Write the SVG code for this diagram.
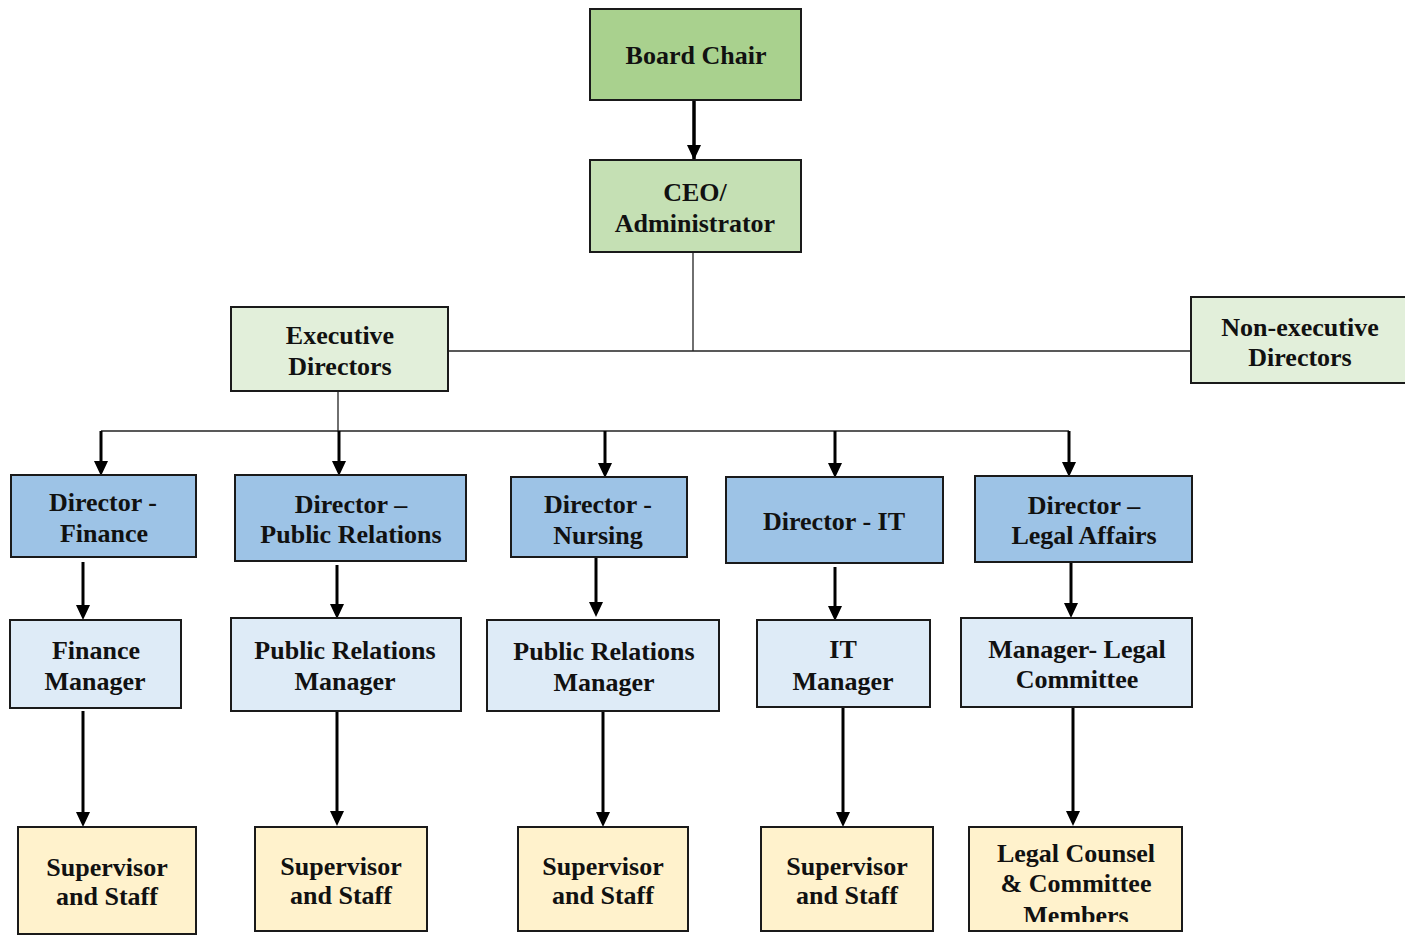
<svg xmlns="http://www.w3.org/2000/svg" width="1405" height="940" viewBox="0 0 1405 940">
<style>
.box{stroke:#1a1a1a;stroke-width:2}
.g1{fill:#a9d18e}.g2{fill:#c5e0b4}.g3{fill:#e2efda}
.b1{fill:#9dc3e6}.b2{fill:#deebf7}.y1{fill:#fff2cc}
text{font-family:"Liberation Serif","Times New Roman",serif;font-weight:bold;font-size:26px;fill:#111;text-anchor:middle}
.thin{stroke:#222;stroke-width:1.3;fill:none}
</style>
<defs>
<clipPath id="clipLegal"><rect x="969" y="827" width="213" height="95"/></clipPath>
</defs>
<rect width="1405" height="940" fill="#fff"/>

<g id="connectors">
<line class="thin" x1="693" y1="253" x2="693" y2="351"/>
<line class="thin" x1="448" y1="351" x2="1191" y2="351"/>
<line class="thin" x1="338" y1="392" x2="338" y2="431"/>
<line class="thin" x1="101" y1="431" x2="1069" y2="431"/>
<path d="M694,101 V159" stroke="#000" stroke-width="3.5"/>
<path d="M687,145 L701,145 L694,160 Z" fill="#000"/>
<g stroke="#000" stroke-width="3">
<line x1="101" y1="431" x2="101" y2="462"/>
<line x1="339" y1="431" x2="339" y2="462"/>
<line x1="605" y1="431" x2="605" y2="464"/>
<line x1="835" y1="431" x2="835" y2="464"/>
<line x1="1069" y1="431" x2="1069" y2="463"/>
<line x1="83" y1="562" x2="83" y2="606"/>
<line x1="337" y1="565" x2="337" y2="605"/>
<line x1="596" y1="557" x2="596" y2="603"/>
<line x1="835" y1="567" x2="835" y2="607"/>
<line x1="1071" y1="562" x2="1071" y2="604"/>
<line x1="83" y1="711" x2="83" y2="813"/>
<line x1="337" y1="708" x2="337" y2="812"/>
<line x1="603" y1="709" x2="603" y2="813"/>
<line x1="843" y1="708" x2="843" y2="813"/>
<line x1="1073" y1="708" x2="1073" y2="812"/>
</g>
<g fill="#000">
<path d="M94,461 L108,461 L101,476 Z"/>
<path d="M332,461 L346,461 L339,476 Z"/>
<path d="M598,463 L612,463 L605,478 Z"/>
<path d="M828,463 L842,463 L835,478 Z"/>
<path d="M1062,462 L1076,462 L1069,477 Z"/>
<path d="M76,605 L90,605 L83,620 Z"/>
<path d="M330,604 L344,604 L337,619 Z"/>
<path d="M589,602 L603,602 L596,617 Z"/>
<path d="M828,606 L842,606 L835,621 Z"/>
<path d="M1064,603 L1078,603 L1071,618 Z"/>
<path d="M76,812 L90,812 L83,827 Z"/>
<path d="M330,811 L344,811 L337,826 Z"/>
<path d="M596,812 L610,812 L603,827 Z"/>
<path d="M836,812 L850,812 L843,827 Z"/>
<path d="M1066,811 L1080,811 L1073,826 Z"/>
</g>
</g>

<g id="board-chair"><rect class="box g1" x="590" y="9" width="211" height="91"/><text x="696" y="64">Board Chair</text></g>
<g id="ceo"><rect class="box g2" x="590" y="160" width="211" height="92"/><text x="695" y="201">CEO/</text><text x="695" y="232">Administrator</text></g>
<g id="exec-directors"><rect class="box g3" x="231" y="307" width="217" height="84"/><text x="340" y="344">Executive</text><text x="340" y="375">Directors</text></g>
<g id="nonexec-directors"><rect class="box g3" x="1191" y="297" width="216" height="86"/><text x="1300" y="336">Non-executive</text><text x="1300" y="366">Directors</text></g>

<g id="dir-finance"><rect class="box b1" x="11" y="475" width="185" height="82"/><text x="103" y="511">Director -</text><text x="104" y="542">Finance</text></g>
<g id="dir-pr"><rect class="box b1" x="235" y="475" width="231" height="86"/><text x="351" y="513">Director –</text><text x="351" y="543">Public Relations</text></g>
<g id="dir-nursing"><rect class="box b1" x="511" y="477" width="176" height="80"/><text x="598" y="513">Director -</text><text x="598" y="544">Nursing</text></g>
<g id="dir-it"><rect class="box b1" x="726" y="477" width="217" height="86"/><text x="834" y="530">Director - IT</text></g>
<g id="dir-legal"><rect class="box b1" x="975" y="476" width="217" height="86"/><text x="1084" y="514">Director –</text><text x="1084" y="544">Legal Affairs</text></g>

<g id="mgr-finance"><rect class="box b2" x="10" y="620" width="171" height="88"/><text x="96" y="659">Finance</text><text x="95" y="690">Manager</text></g>
<g id="mgr-pr"><rect class="box b2" x="231" y="618" width="230" height="93"/><text x="345" y="659">Public Relations</text><text x="345" y="690">Manager</text></g>
<g id="mgr-pr2"><rect class="box b2" x="487" y="620" width="232" height="91"/><text x="604" y="660">Public Relations</text><text x="604" y="691">Manager</text></g>
<g id="mgr-it"><rect class="box b2" x="757" y="620" width="173" height="87"/><text x="843" y="658">IT</text><text x="843" y="690">Manager</text></g>
<g id="mgr-legal"><rect class="box b2" x="961" y="618" width="231" height="89"/><text x="1077" y="658">Manager- Legal</text><text x="1077" y="688">Committee</text></g>

<g id="staff-finance"><rect class="box y1" x="18" y="827" width="178" height="107"/><text x="107" y="876">Supervisor</text><text x="107" y="905">and Staff</text></g>
<g id="staff-pr"><rect class="box y1" x="255" y="827" width="172" height="104"/><text x="341" y="875">Supervisor</text><text x="341" y="904">and Staff</text></g>
<g id="staff-pr2"><rect class="box y1" x="518" y="827" width="170" height="104"/><text x="603" y="875">Supervisor</text><text x="603" y="904">and Staff</text></g>
<g id="staff-it"><rect class="box y1" x="761" y="827" width="172" height="104"/><text x="847" y="875">Supervisor</text><text x="847" y="904">and Staff</text></g>
<g id="legal-counsel"><rect class="box y1" x="969" y="827" width="213" height="104"/><g clip-path="url(#clipLegal)"><text x="1076" y="862">Legal Counsel</text><text x="1076" y="892">&amp; Committee</text><text x="1076" y="924">Members</text></g></g>
</svg>
